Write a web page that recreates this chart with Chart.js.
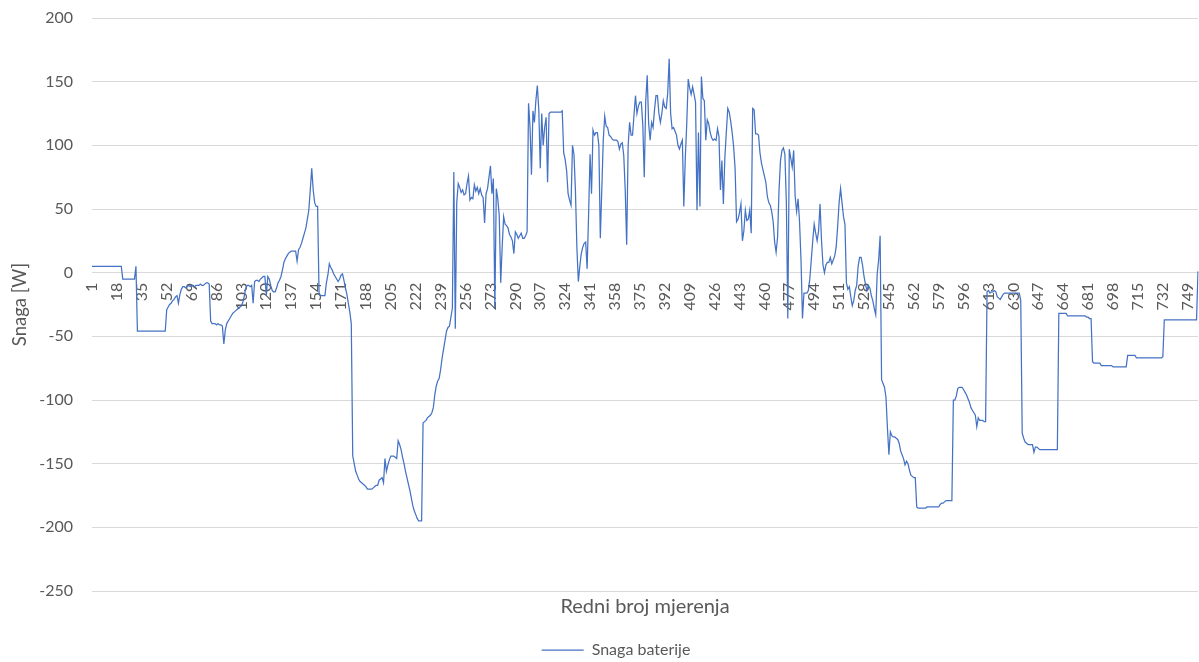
<!DOCTYPE html>
<html>
<head>
<meta charset="utf-8">
<script src="https://cdn.jsdelivr.net/npm/chart.js@4.4.1/dist/chart.umd.min.js"></script>
<style>
html,body{margin:0;padding:0;background:#ffffff;overflow:hidden;}
canvas{display:block;}
</style>
</head>
<body>
<canvas id="c" width="1199" height="668"></canvas>
<script>
const snagaBaterije = [
  5,5,5,5,5,5,5,5,5,5,
  5,5,5,5,5,5,5,5,5,5,
  5,-5,-5,-5,-5,-5,-5,-5,-5,-5,
  5,-46,-46,-46,-46,-46,-46,-46,-46,-46,
  -46,-46,-46,-46,-46,-46,-46,-46,-46,-46,
  -46,-29,-27,-25,-24,-22,-21,-19,-18,-24,
  -17,-13,-11,-11,-12,-11,-10,-11,-10,-10,
  -11,-10,-10,-10,-9,-10,-10,-9,-8,-8,
  -9,-38,-40,-40,-40,-41,-40,-41,-41,-42,
  -56,-45,-40,-38,-36,-34,-32,-31,-30,-29,
  -28,-27,-26,-23,-18,-12,-10,-10,-11,-10,
  -24,-7,-6,-6,-7,-5,-4,-3,-3,-18,
  -3,-5,-10,-14,-15,-15,-12,-8,-6,-3,
  2,8,11,13,15,16,17,17,17,17,
  9,18,20,23,27,31,35,42,49,65,
  82,65,55,52,52,-16,-18,-18,-18,-18,
  -8,-2,7,4,2,-1,-3,-5,-7,-5,
  -2,-1,-6,-12,-17,-24,-31,-40,-144,-150,
  -156,-159,-162,-164,-165,-166,-167,-168,-170,-170,
  -170,-170,-169,-168,-167,-167,-163,-162,-161,-165,
  -146,-156,-151,-147,-144,-144,-144,-145,-146,-132,
  -135,-139,-145,-150,-156,-161,-166,-171,-177,-183,
  -187,-190,-193,-195,-195,-195,-118,-117,-116,-114,
  -113,-112,-110,-106,-96,-89,-85,-83,-76,-67,
  -60,-53,-46,-43,-42,-35,-28,79,-44,55,
  70,67,63,65,61,62,70,76,57,59,
  58,69,64,67,62,66,61,59,39,62,
  66,75,84,62,74,-28,66,58,45,-8,
  20,44,38,37,35,30,28,25,15,32,
  30,27,29,31,27,27,29,32,133,115,
  77,127,118,135,147,128,82,125,100,114,
  122,71,125,126,126,126,126,126,126,126,
  126,127,94,89,80,62,57,53,100,93,
  65,20,-7,5,15,20,23,24,3,46,
  93,62,112,108,110,110,100,27,65,104,
  123,115,114,108,107,105,104,104,104,103,
  97,101,102,92,65,22,100,118,108,108,
  124,139,125,131,134,134,116,75,135,155,
  117,104,118,114,128,139,139,125,118,125,
  135,130,129,141,168,125,113,114,111,108,
  100,97,101,104,52,90,117,152,145,140,
  146,140,134,49,110,52,154,137,135,104,
  120,117,110,106,104,105,104,113,107,65,
  88,54,90,110,129,126,119,110,99,82,
  40,42,47,54,25,33,49,41,42,49,
  31,129,128,109,109,108,94,86,81,76,
  71,60,55,53,48,40,24,16,28,65,
  88,96,98,93,55,-36,97,90,83,96,
  60,48,58,40,10,-36,-16,-16,-16,-14,
  -5,10,25,38,31,25,33,54,25,6,
  0,6,8,8,12,7,10,13,20,36,
  55,66,55,44,38,-8,-13,-11,-19,-26,
  -22,-14,-10,5,12,12,6,-3,-9,-14,
  -10,-12,-18,-22,-28,-33,-1,10,29,-84,
  -87,-90,-98,-122,-143,-125,-128,-129,-129,-130,
  -131,-134,-140,-143,-146,-151,-148,-150,-155,-159,
  -160,-161,-161,-184,-185,-185,-185,-185,-185,-185,
  -184,-184,-184,-184,-184,-184,-184,-184,-184,-182,
  -181,-181,-180,-179,-179,-179,-179,-179,-100,-100,
  -97,-91,-90,-90,-90,-92,-94,-96,-99,-102,
  -106,-108,-110,-112,-121,-114,-116,-116,-116,-117,
  -117,-15,-14,-16,-15,-15,-14,-15,-19,-20,
  -21,-19,-17,-16,-16,-16,-16,-16,-16,-16,
  -16,-16,-16,-16,-22,-126,-130,-133,-134,-135,
  -135,-135,-135,-141,-137,-137,-138,-139,-139,-139,
  -139,-139,-139,-139,-139,-139,-139,-139,-139,-139,
  -32,-32,-32,-32,-32,-32,-34,-34,-34,-34,
  -34,-34,-34,-34,-34,-34,-34,-34,-34,-35,
  -35,-36,-36,-70,-71,-71,-71,-71,-71,-73,
  -73,-73,-73,-73,-73,-73,-73,-74,-74,-74,
  -74,-74,-74,-74,-74,-74,-74,-65,-65,-65,
  -65,-65,-65,-67,-67,-67,-67,-67,-67,-67,
  -67,-67,-67,-67,-67,-67,-67,-67,-67,-67,
  -67,-66,-37,-37,-37,-37,-37,-37,-37,-37,
  -37,-37,-37,-37,-37,-37,-37,-37,-37,-37,
  -37,-37,-37,-37,-37,1
];

// Category labels: measurement ordinal numbers 1..N
const categories = snagaBaterije.map((_, i) => String(i + 1));
// Every 17th category carries a visible tick label (1, 18, 35, ...)
const labelStep = 17;

const seriesName = 'Snaga baterije';
const xTitle = 'Redni broj mjerenja';
const yTitle = 'Snaga [W]';
const yMin = -250, yMax = 200, yStep = 50;

const textColor = '#595959';
const gridColor = '#d9d9d9';
const lineColor = '#4472C4';
const fontFamily = 'Lato, "Open Sans", sans-serif';

Chart.defaults.font.family = fontFamily;
Chart.defaults.color = textColor;

new Chart(document.getElementById('c'), {
  type: 'line',
  data: {
    labels: categories,
    datasets: [{
      label: seriesName,
      data: snagaBaterije,
      borderColor: lineColor,
      backgroundColor: lineColor,
      borderWidth: 1.25,
      pointRadius: 0,
      pointHoverRadius: 0,
      pointStyle: 'line',
      tension: 0,
      fill: false
    }]
  },
  options: {
    responsive: false,
    animation: false,
    devicePixelRatio: 1,
    events: [],
    layout: { padding: { top: 18, right: 1, left: 34, bottom: 0 } },
    scales: {
      x: {
        type: 'category',
        position: { y: 0 },
        offset: false,
        grid: { display: false, drawTicks: false },
        border: { display: true, color: gridColor, width: 1 },
        ticks: {
          autoSkip: false,
          minRotation: 90,
          maxRotation: 90,
          padding: 10,
          color: textColor,
          font: { size: 16, family: fontFamily },
          callback: function (value, index) {
            return index % labelStep === 0 ? categories[index] : '';
          }
        },
        afterFit: function (scale) {
          scale.paddingLeft = 0;
          scale.paddingRight = 0;
        }
      },
      y: {
        min: yMin,
        max: yMax,
        grid: { color: gridColor, lineWidth: 1, drawTicks: false },
        border: { display: false },
        ticks: {
          stepSize: yStep,
          padding: 19,
          color: textColor,
          font: { size: 16, family: fontFamily }
        },
        title: {
          display: true,
          text: yTitle,
          color: textColor,
          font: { size: 18.5, family: fontFamily },
          padding: { top: -25, bottom: 0 }
        },
        afterFit: function (scale) {
          scale.width = 58;
          scale.paddingTop = 0;
          scale.paddingBottom = 0;
        }
      }
    },
    plugins: {
      tooltip: { enabled: false },
      title: {
        display: true,
        position: 'bottom',
        fullSize: false,
        weight: 500,
        text: xTitle,
        color: textColor,
        font: { size: 20, weight: 'normal', family: fontFamily },
        padding: { top: 4, bottom: 13 }
      },
      legend: {
        display: true,
        position: 'bottom',
        labels: {
          usePointStyle: true,
          pointStyleWidth: 42,
          padding: 10,
          color: textColor,
          font: { size: 16, family: fontFamily }
        }
      }
    }
  }
});
</script>
</body>
</html>
